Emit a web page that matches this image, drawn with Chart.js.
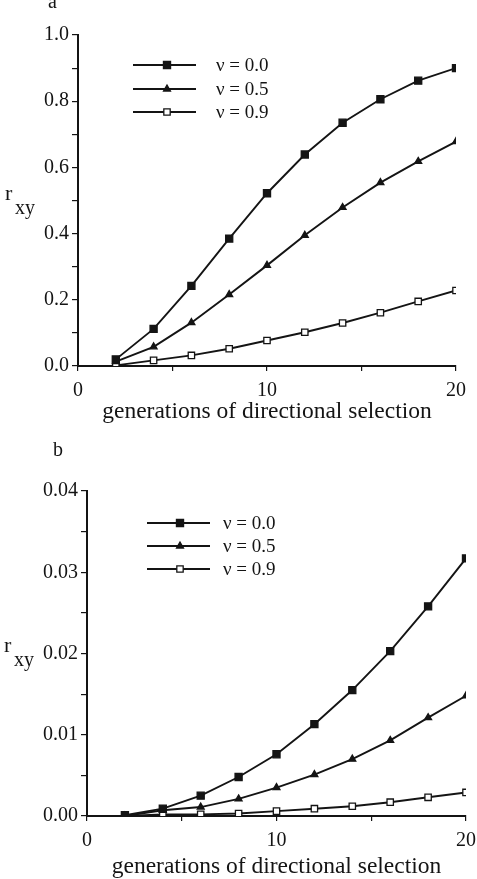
<!DOCTYPE html>
<html>
<head>
<meta charset="utf-8">
<script src="https://cdn.jsdelivr.net/npm/chart.js@4.4.1/dist/chart.umd.min.js"></script>
<style>
    body { margin: 0; background: #fff; width: 477px; height: 879px; overflow: hidden; position: relative; }
    .panel { position: absolute; left: 0; width: 477px; }
    #panelA { top: 0; height: 440px; }
    #panelB { top: 440px; height: 439px; }
</style>
</head>
<body>
<div class="panel" id="panelA"><canvas id="chartA"></canvas></div>
<div class="panel" id="panelB"><canvas id="chartB"></canvas></div>
<script>
// Data
const generations = [2, 4, 6, 8, 10, 12, 14, 16, 18, 20];
const legendLabels = ['ν = 0.0', 'ν = 0.5', 'ν = 0.9'];
const xAxisTitle = 'generations of directional selection';

// panel a
const rxyA_v00 = [0.020, 0.112, 0.242, 0.385, 0.522, 0.639, 0.735, 0.806, 0.862, 0.900];
const rxyA_v05 = [0.013, 0.058, 0.131, 0.216, 0.304, 0.395, 0.479, 0.554, 0.618, 0.678];
const rxyA_v09 = [0.002, 0.017, 0.032, 0.052, 0.077, 0.102, 0.130, 0.161, 0.195, 0.228];

// panel b
const rxyB_v00 = [0.0001, 0.0009, 0.0025, 0.0048, 0.0076, 0.0113, 0.0155, 0.0203, 0.0258, 0.0317];
const rxyB_v05 = [0.0000, 0.0007, 0.0011, 0.0021, 0.0035, 0.0051, 0.0070, 0.0093, 0.0121, 0.0148];
const rxyB_v09 = [0.0000, 0.0002, 0.0002, 0.0003, 0.0006, 0.0009, 0.0012, 0.0017, 0.0023, 0.0029];

const FONT = "'Liberation Serif', 'Times New Roman', serif";
const INK = '#141414';
Chart.defaults.font.family = FONT;
Chart.defaults.font.size = 20;
Chart.defaults.color = INK;

const markerStyles = [
    { pointStyle: 'rect', radius: 5, fill: INK },
    { pointStyle: 'triangle', radius: 4, fill: INK },
    { pointStyle: 'rect', radius: 4.5, fill: '#fff' }
];

function makeDatasets(series) {
    return series.map((values, i) => ({
        label: legendLabels[i],
        data: generations.map((g, j) => ({ x: g, y: values[j] })),
        borderColor: INK,
        borderWidth: 1.9,
        pointStyle: markerStyles[i].pointStyle,
        pointRadius: markerStyles[i].radius,
        pointBackgroundColor: markerStyles[i].fill,
        pointBorderColor: INK,
        pointBorderWidth: 1.3,
        tension: 0
    }));
}

// Legend, r_xy label and panel letter drawn on the canvas
function panelDecor(cfg) {
    return {
        id: 'panelDecor',
        afterDraw(chart) {
            const ctx = chart.ctx;
            ctx.save();
            ctx.fillStyle = INK;
            ctx.strokeStyle = INK;

            // panel letter
            ctx.font = '20px ' + FONT;
            ctx.textAlign = 'left';
            ctx.textBaseline = 'alphabetic';
            ctx.fillText(cfg.letter, cfg.letterX, cfg.letterY);

            // y label r_xy
            ctx.font = '22px ' + FONT;
            ctx.fillText('r', cfg.rX, cfg.rY);
            ctx.font = '20px ' + FONT;
            ctx.fillText('xy', cfg.rX + 10, cfg.rY + 14);

            // legend
            ctx.font = '19px ' + FONT;
            ctx.textBaseline = 'middle';
            legendLabels.forEach((label, i) => {
                const y = cfg.legendY[i];
                ctx.lineWidth = 1.9;
                ctx.beginPath();
                ctx.moveTo(cfg.lineX0, y);
                ctx.lineTo(cfg.lineX1, y);
                ctx.stroke();
                ctx.fillStyle = markerStyles[i].fill;
                ctx.lineWidth = 1.3;
                Chart.helpers.drawPoint(ctx, {
                    pointStyle: markerStyles[i].pointStyle,
                    radius: markerStyles[i].radius,
                    rotation: 0,
                    borderWidth: 1.3
                }, cfg.markerX, y);
                ctx.fillStyle = INK;
                ctx.fillText(label, cfg.textX, y + 1);
            });
            ctx.restore();
        }
    };
}

function makeChart(canvasId, series, yMax, yStep, yDecimals, layout, decor) {
    const ctx = document.getElementById(canvasId).getContext('2d');
    return new Chart(ctx, {
        type: 'line',
        data: { datasets: makeDatasets(series) },
        options: {
            responsive: true,
            maintainAspectRatio: false,
            animation: false,
            layout: { padding: layout.padding },
            plugins: {
                legend: { display: false },
                tooltip: { enabled: false }
            },
            scales: {
                x: {
                    type: 'linear',
                    min: 0,
                    max: 20,
                    ticks: {
                        stepSize: 5,
                        padding: 8,
                        color: INK,
                        callback: v => (v % 10 === 0 ? String(v) : '')
                    },
                    grid: { drawOnChartArea: false, tickLength: 5, color: INK, lineWidth: 1.2 },
                    border: { color: INK, width: 2 },
                    title: {
                        display: true,
                        text: xAxisTitle,
                        color: INK,
                        font: { size: 23.5, lineHeight: 1 },
                        padding: { top: 0, bottom: layout.titleBottom }
                    },
                    afterFit: scale => {
                        scale.height = layout.xHeight;
                        scale.paddingLeft = 0;
                        scale.paddingRight = 0;
                    }
                },
                y: {
                    min: 0,
                    max: yMax,
                    ticks: {
                        stepSize: yStep / 2,
                        padding: 3,
                        color: INK,
                        callback: v => (Math.round(v / (yStep / 2)) % 2 === 0 ? v.toFixed(yDecimals) : '')
                    },
                    grid: { drawOnChartArea: false, tickLength: 6, color: INK, lineWidth: 1.2 },
                    border: { color: INK, width: 2 },
                    afterFit: scale => {
                        scale.width = layout.yWidth;
                        scale.paddingTop = 0;
                        scale.paddingBottom = 0;
                    }
                }
            }
        },
        plugins: [panelDecor(decor)]
    });
}

document.addEventListener('DOMContentLoaded', () => {
    makeChart('chartA', [rxyA_v00, rxyA_v05, rxyA_v09], 1.0, 0.2, 1,
        { padding: { top: 35, right: 21, left: 0, bottom: 0 }, yWidth: 78, xHeight: 74, titleBottom: 16 },
        { letter: 'a', letterX: 48, letterY: 8, rX: 5, rY: 200,
          legendY: [65, 89, 112], lineX0: 133, lineX1: 196, markerX: 167, textX: 216 });

    makeChart('chartB', [rxyB_v00, rxyB_v05, rxyB_v09], 0.04, 0.01, 2,
        { padding: { top: 51, right: 11, left: 0, bottom: 0 }, yWidth: 87, xHeight: 63, titleBottom: 0 },
        { letter: 'b', letterX: 53, letterY: 16, rX: 4, rY: 212,
          legendY: [83, 106, 129], lineX0: 147, lineX1: 210, markerX: 180, textX: 223 });
});
</script>
</body>
</html>
